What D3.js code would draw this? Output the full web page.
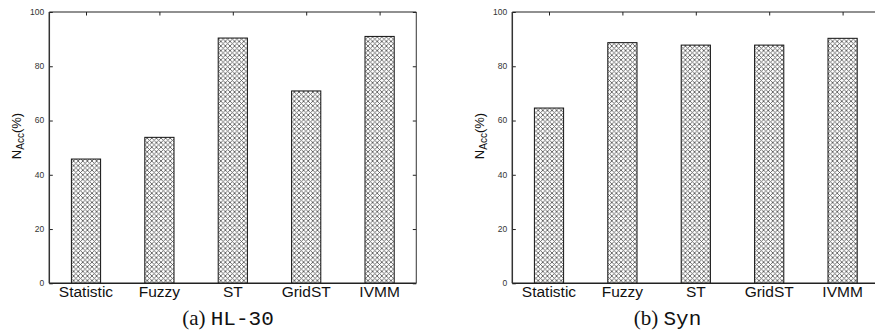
<!DOCTYPE html>
<html>
<head>
<meta charset="utf-8">
<script src="https://cdn.jsdelivr.net/npm/d3@7"></script>
<style>
  html, body { margin: 0; padding: 0; background: #fff; }
  svg { display: block; }
  .sans { font-family: 'Liberation Sans', 'Arimo', 'DejaVu Sans', sans-serif; }
  .serif { font-family: 'Liberation Serif', 'DejaVu Serif', serif; }
  .mono { font-family: 'Liberation Mono', 'DejaVu Sans Mono', monospace; }
</style>
</head>
<body>
<svg id="chart" width="875" height="332"></svg>
<script>
// ---- data ----
const categories = ["Statistic", "Fuzzy", "ST", "GridST", "IVMM"];
const valuesHL30 = [45.8, 53.8, 90.4, 70.9, 91.0];
const valuesSyn = [64.6, 88.7, 87.8, 87.8, 90.3];
const yTicks = [0, 20, 40, 60, 80, 100];
const captionPrefixes = ["(a)", "(b)"];
const captionNames = ["HL-30", "Syn"];

const svg = d3.select("#chart");

// hatch pattern
const defs = svg.append("defs");
const pat = defs.append("pattern")
  .attr("id", "hatch")
  .attr("patternUnits", "userSpaceOnUse")
  .attr("width", 4.6).attr("height", 4.6);
pat.append("rect").attr("width", 4.6).attr("height", 4.6).attr("fill", "#fff");
pat.append("path")
  .attr("d", "M-1,-1 L5.6,5.6 M-1,5.6 L5.6,-1")
  .attr("stroke", "#5e5e5e").attr("stroke-width", 0.9).attr("fill", "none");

const panels = [
  { x0: 49.3, values: valuesHL30, labelX: 20.5, capX: 228, clipRight: false },
  { x0: 512.3, values: valuesSyn, labelX: 483.5, capX: 667.5, clipRight: true }
];
const plotW = 367, yTop = 12, yBot = 283.3;

panels.forEach((p, i) => {
  const g = svg.append("g");
  const xc = d3.scalePoint().domain(categories).range([p.x0, p.x0 + plotW]).padding(0.5);
  const y = d3.scaleLinear().domain([0, 100]).range([yBot, yTop]);

  // bars
  g.selectAll("rect.bar").data(p.values).enter().append("rect")
    .attr("class", "bar")
    .attr("x", (d, j) => xc(categories[j]) - 14.6)
    .attr("width", 29.2)
    .attr("y", d => y(d))
    .attr("height", d => y(0) - y(d))
    .attr("fill", "url(#hatch)")
    .attr("stroke", "#111").attr("stroke-width", 1);

  // y axis (left) with inward ticks
  const yAxis = d3.axisRight(y).tickValues(yTicks).tickSize(3.5).tickFormat("");
  g.append("g").attr("transform", `translate(${p.x0},0)`).call(yAxis)
    .call(a => a.select(".domain").remove())
    .selectAll("line").attr("stroke", "#222");
  // tick labels
  g.selectAll("text.ytl").data(yTicks).enter().append("text")
    .attr("class", "ytl sans")
    .attr("x", p.x0 - 5).attr("y", d => y(d)).attr("dy", "0.35em")
    .attr("text-anchor", "end")
    .attr("font-size", 8.5).attr("fill", "#333")
    .text(d => d);

  // right side ticks (mirror)
  if (!p.clipRight) {
    const yAxisR = d3.axisLeft(y).tickValues(yTicks).tickSize(3.5).tickFormat("");
    g.append("g").attr("transform", `translate(${p.x0 + plotW},0)`).call(yAxisR)
      .call(a => a.select(".domain").remove())
      .selectAll("line").attr("stroke", "#222");
  }
  // top ticks
  const xAxisT = d3.axisBottom(xc).tickSize(3.5).tickFormat("");
  g.append("g").attr("transform", `translate(0,${yTop})`).call(xAxisT)
    .call(a => a.select(".domain").remove())
    .selectAll("line").attr("stroke", "#222");

  // frame
  g.append("line").attr("x1", p.x0).attr("x2", p.x0 + plotW).attr("y1", yTop).attr("y2", yTop)
    .attr("stroke", "#222").attr("stroke-width", 1.2);
  g.append("line").attr("x1", p.x0).attr("x2", p.x0 + plotW).attr("y1", yBot).attr("y2", yBot)
    .attr("stroke", "#222").attr("stroke-width", 1.4);
  g.append("line").attr("x1", p.x0).attr("x2", p.x0).attr("y1", yTop).attr("y2", yBot)
    .attr("stroke", "#333").attr("stroke-width", 1.5);
  if (!p.clipRight) {
    g.append("line").attr("x1", p.x0 + plotW).attr("x2", p.x0 + plotW).attr("y1", yTop).attr("y2", yBot)
      .attr("stroke", "#444").attr("stroke-width", 1.1);
  }

  // category labels
  g.selectAll("text.cat").data(categories).enter().append("text")
    .attr("class", "cat sans")
    .attr("x", d => xc(d)).attr("y", 297)
    .attr("text-anchor", "middle")
    .attr("font-size", 15.5).attr("fill", "#111")
    .text(d => d);

  // y label
  const yl = g.append("text")
    .attr("class", "sans")
    .attr("transform", `translate(${p.labelX},136) rotate(-90)`)
    .attr("text-anchor", "middle")
    .attr("font-size", 13).attr("fill", "#111");
  yl.append("tspan").text("N");
  yl.append("tspan").attr("font-size", 10).attr("dy", 3).text("Acc");
  yl.append("tspan").attr("dy", -3).text("(%)");

  // caption
  const cap = g.append("text")
    .attr("x", p.capX).attr("y", 325)
    .attr("text-anchor", "middle")
    .attr("fill", "#111");
  cap.append("tspan").attr("class", "serif").attr("font-size", 21)
    .text(captionPrefixes[i] + " ");
  cap.append("tspan").attr("class", "mono").attr("font-size", 21)
    .text(captionNames[i]);
});
</script>
</body>
</html>
